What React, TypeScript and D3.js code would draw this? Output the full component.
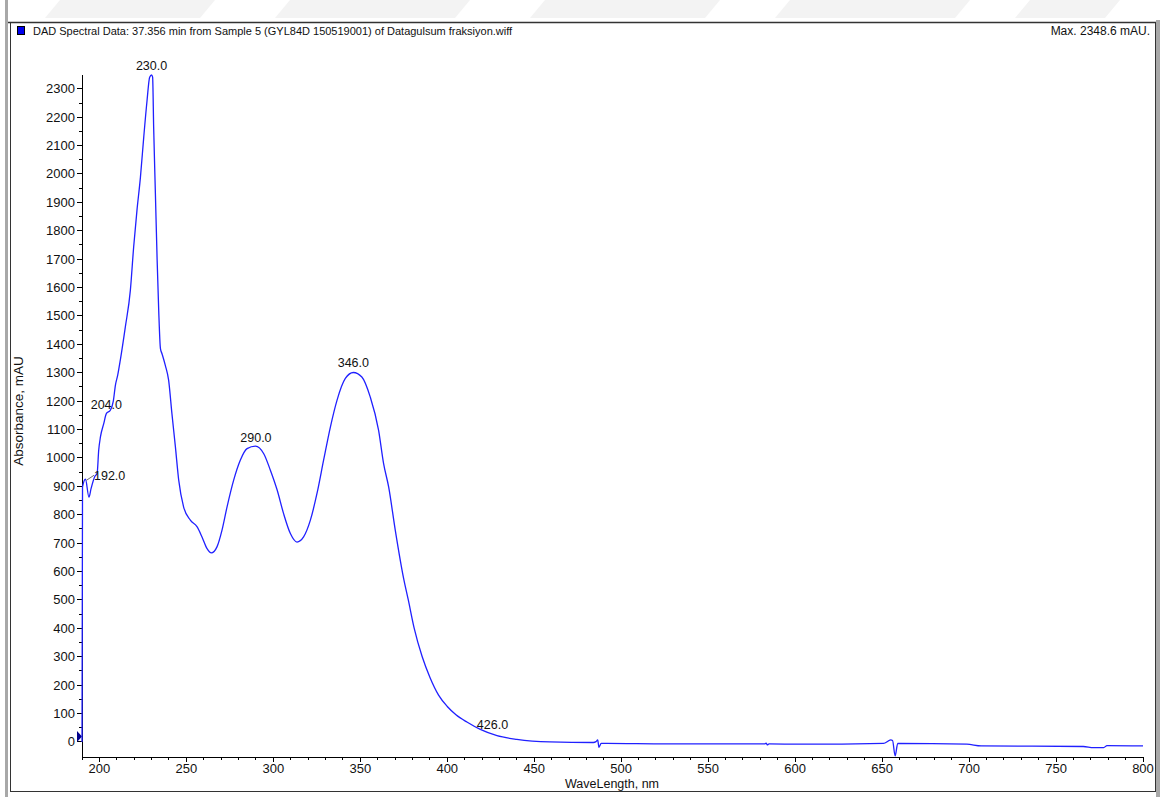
import React from "react";
import * as d3 from "d3";

const titleText = "DAD Spectral Data: 37.356 min from Sample 5 (GYL84D 150519001) of Datagulsum fraksiyon.wiff";
const maxText = "Max. 2348.6 mAU.";
const xTitle = "WaveLength, nm";
const yTitle = "Absorbance, mAU";

const wavelengths = [
  190, 190.3, 192, 194, 195.2, 197.3, 198.7, 199.6, 200.6, 202.5, 204, 206.3, 208, 209.2, 210.5, 212,
  214.9, 217.8, 219.7, 221.6, 223.6, 225.5, 227.4, 228.9, 230, 230.6, 231.2, 232.2, 233.2, 234.1, 235.1,
  236, 237.9, 239.8, 241.7, 243.7, 245.6, 248.4, 252.3, 256.1, 259, 261.9, 264.4, 267.6, 270.5, 273.4,
  277.2, 281, 284.9, 289.7, 294.5, 298.3, 302.2, 305.9, 309.8, 313.6, 317.4, 321.3, 325.1, 328.9, 332.8,
  336.6, 341.4, 346, 350.9, 355.7, 360.5, 363.4, 366.3, 370.1, 374.9, 377.6, 381, 385.6, 390, 395,
  400, 405, 411.3, 419, 428.6, 440, 459, 484, 485.5, 486.5, 487.2, 488.5, 491.7, 526, 564.6, 582.5, 583.3,
  584, 585, 603, 650.8, 655, 656, 657.5, 659, 698.7, 707, 765.7, 771.6, 777.4, 779.3, 800,
];
const absorbance = [
  0, 898, 925, 862, 892, 934, 946, 1027, 1074, 1121, 1156, 1168, 1200, 1256, 1291, 1344,
  1461, 1590, 1743, 1872, 1989, 2130, 2259, 2341, 2348.6, 2341, 2164, 1930, 1696, 1520, 1385,
  1367, 1326, 1274, 1156, 1039, 922, 828, 781, 758, 722, 681, 666, 687, 746, 828,
  922, 992, 1033, 1042, 1015, 957, 887, 804, 734, 704, 722, 781, 875, 992, 1109,
  1203, 1280, 1301, 1285, 1215, 1098, 980, 898, 746, 576, 500, 400, 300, 228, 165,
  125, 96, 70, 44, 22, 9, 0, -2, 1, 7, -19, -5, -5, -7, -7, -7, -4,
  -10, -7, -8, -5, 7, 5, -49, -5, -8, -14, -16, -20, -20, -13, -14,
];

const xTickValues = [200, 250, 300, 350, 400, 450, 500, 550, 600, 650, 700, 750, 800];
const yTickValues = [0, 100, 200, 300, 400, 500, 600, 700, 800, 900, 1000, 1100, 1200, 1300, 1400, 1500, 1600, 1700, 1800, 1900, 2000, 2100, 2200, 2300];
const peakWavelengths = [192, 204, 230, 290, 346, 426];

const FONT = "'Liberation Sans', Arial, sans-serif";

export default function App() {
  const W = 1161, H = 797;
  const x = d3.scaleLinear().domain([190, 800]).range([82, 1143]);
  const y = d3.scaleLinear().domain([-53, 2348.6]).range([757, 75]);
  const pts = wavelengths.map((w, i) => [w, absorbance[i]] as [number, number]);
  const line = d3.line<[number, number]>().x(d => x(d[0])).y(d => y(d[1])).curve(d3.curveMonotoneX);
  const interp = (w: number) => {
    const i = d3.bisector((d: [number, number]) => d[0]).left(pts, w);
    if (i <= 0) return pts[0][1];
    if (i >= pts.length) return pts[pts.length - 1][1];
    const a = pts[i - 1], b = pts[i];
    const t = (w - a[0]) / (b[0] - a[0]);
    return a[1] + t * (b[1] - a[1]);
  };
  const xMinor = d3.range(190, 801, 10).filter(v => v % 50 !== 0);
  const yMinor = d3.range(50, 2301, 100);

  return (
    <svg width={W} height={H} style={{ display: "block", position: "absolute", left: 0, top: 0 }} fontFamily={FONT}>
      <rect x={0} y={0} width={W} height={H} fill="#fff" />
      {/* faint watermark bands at top */}
      <g fill="#f3f3f3">
        <polygon points="60,0 215,0 200,18 45,18" />
        <polygon points="290,0 470,0 455,18 275,18" />
        <polygon points="545,0 720,0 705,18 530,18" />
        <polygon points="790,0 970,0 955,18 775,18" />
        <polygon points="1030,0 1120,0 1105,18 1015,18" />
      </g>
      {/* frame */}
      <rect x={5} y={0} width={3} height={H} fill="#a8a8a8" />
      <rect x={1156} y={20} width={4} height={777} fill="#a8a8a8" />
      <rect x={10.5} y={22.5} width={1145} height={769} fill="none" stroke="#333" strokeWidth={1} />
      <line x1={8} x2={1156} y1={22.5} y2={22.5} stroke="#333" strokeWidth={1.5} />
      {/* header */}
      <rect x={17.5} y={26.5} width={7} height={8} fill="#0000ee" stroke="#000" strokeWidth={1} />
      <text x={33} y={35} fontSize={11} fill="#111">{titleText}</text>
      <text x={1150} y={35} fontSize={12} fill="#111" textAnchor="end">{maxText}</text>

      {/* axes */}
      <g stroke="#000" strokeWidth={1} shapeRendering="crispEdges">
        <line x1={82} x2={82} y1={75} y2={757} />
        <line x1={82} x2={1143} y1={757} y2={757} />
        {xTickValues.map(v => <line key={"xt" + v} x1={x(v)} x2={x(v)} y1={757} y2={762} />)}
        {xMinor.map(v => <line key={"xm" + v} x1={x(v)} x2={x(v)} y1={757} y2={760} />)}
        {yTickValues.map(v => <line key={"yt" + v} x1={77} x2={82} y1={y(v)} y2={y(v)} />)}
        {yMinor.map(v => <line key={"ym" + v} x1={79} x2={82} y1={y(v)} y2={y(v)} />)}
      </g>
      {xTickValues.map(v => (
        <text key={"xl" + v} x={x(v)} y={773} fontSize={13} textAnchor="middle" fill="#111">{v}</text>
      ))}
      {yTickValues.map(v => (
        <text key={"yl" + v} x={75} y={y(v) + 4.5} fontSize={13} textAnchor="end" fill="#111">{v}</text>
      ))}
      <text x={612} y={788} fontSize={12.5} textAnchor="middle" fill="#111">{xTitle}</text>
      <text transform={`translate(23,411) rotate(-90)`} fontSize={13.5} textAnchor="middle" fill="#111">{yTitle}</text>

      {/* zero marker */}
      <polygon points="77,731 82,736.5 77,742" fill="#00008b" />

      {/* spectrum */}
      <path d={line(pts) || ""} fill="none" stroke="#2020ff" strokeWidth={1.3} />

      {/* peak labels */}
      {peakWavelengths.map(w => {
        const v = interp(w);
        if (w === 192) {
          return (
            <g key={"pk" + w}>
              <line x1={x(w) + 1} y1={y(v) + 1} x2={94} y2={y(v) - 4} stroke="#444" strokeWidth={0.8} />
              <text x={94} y={y(v) + 1} fontSize={12.5} fill="#111">{w.toFixed(1)}</text>
            </g>
          );
        }
        return (
          <text key={"pk" + w} x={x(w)} y={y(v) - 5} fontSize={12.5} textAnchor="middle" fill="#111">{w.toFixed(1)}</text>
        );
      })}
    </svg>
  );
}
